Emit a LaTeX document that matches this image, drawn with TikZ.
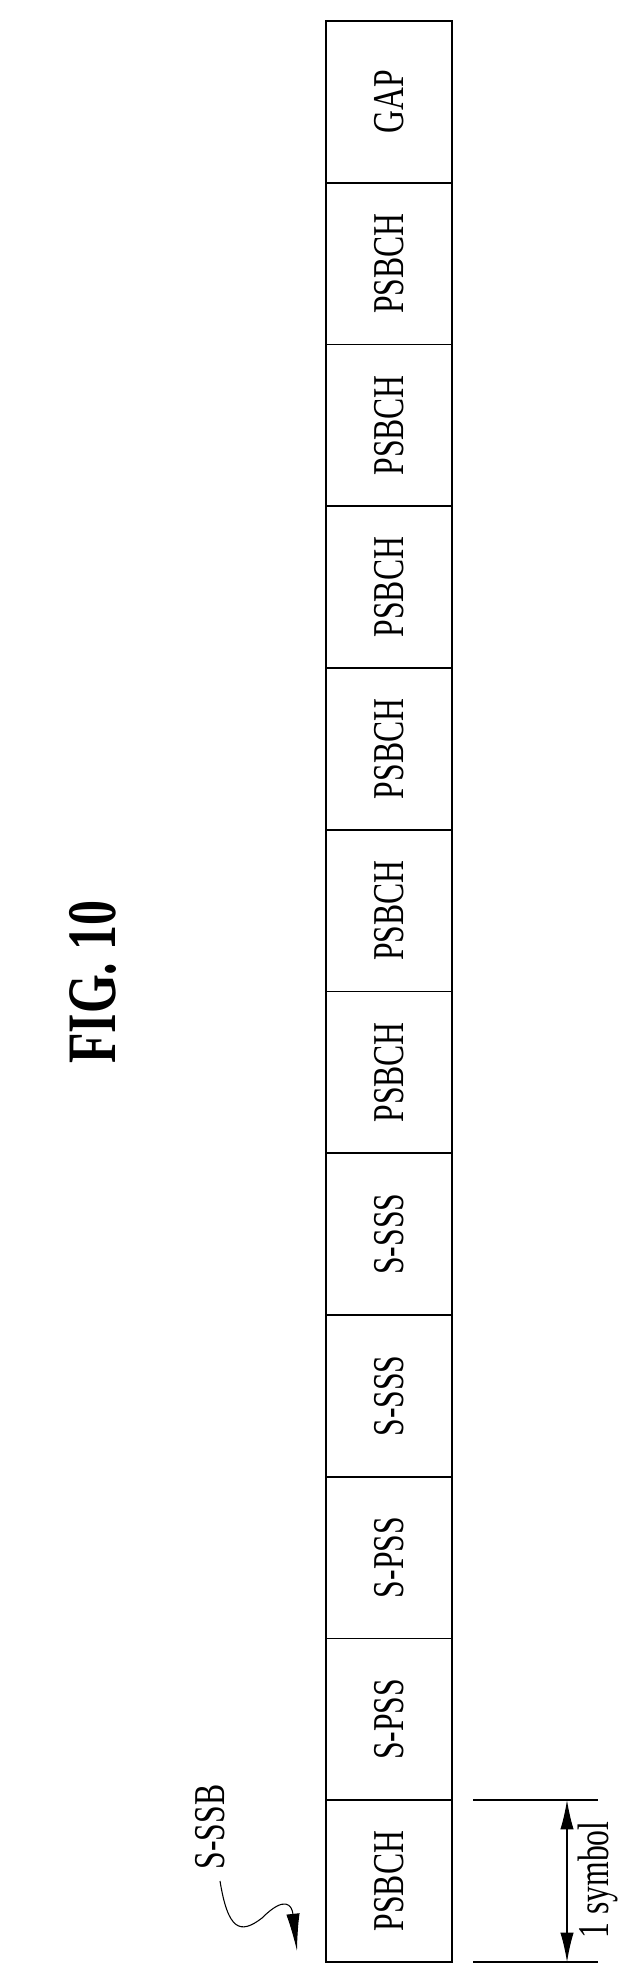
\documentclass[tikz,border=0pt]{standalone}
\usepackage{fontspec}
\setmainfont{Liberation Serif}
\usetikzlibrary{arrows.meta}
\tikzset{
  slot/.style={draw, line width=1.2pt, minimum width=126*0.75pt, minimum height=161.75*0.75pt, inner sep=0pt},
  vlabel/.style={rotate=90, font=\fontsize{33}{36}\selectfont},
}
\newcommand{\narrow}[1]{\scalebox{0.72}[1]{#1}}
\begin{document}
\begin{tikzpicture}[x=0.75pt, y=-0.75pt]
\useasboundingbox (0,0) rectangle (642,1983);
\node[vlabel, font=\fontsize{52}{56}\bfseries\selectfont] (title) at (93,982) {\narrow{FIG. 10}};

\foreach \lab [count=\i from 0] in {PSBCH,S-PSS,S-PSS,S-SSS,S-SSS,PSBCH,PSBCH,PSBCH,PSBCH,PSBCH,PSBCH,GAP}
  \node[slot] (s\i) at (389,{1962-161.75*(\i+0.5)}) {\rotatebox{90}{\fontsize{33}{36}\selectfont\narrow{\lab}}};

% one symbol dimension
\coordinate (d1) at (473,1800);
\coordinate (d2) at (473,1962);
\draw[line width=1.2pt] (d1) -- ++(125,0);
\draw[line width=0.8pt] (d2) -- ++(125,0);
\coordinate (a1) at (567,1800);
\coordinate (a2) at (567,1962);
\draw[line width=0.8pt, {Latex[length=22,width=10]}-{Latex[length=22,width=10]}] (a1) -- (a2);
\node[vlabel] (sym) at (598,1880) {\narrow{1 symbol}};

% S-SSB pointer
\node[vlabel] (ssb) at (210,1827) {\narrow{S-SSB}};
\coordinate (tip) at (297,1951);
\draw[line width=0.8pt, -{Latex[length=28,width=10]}] (220,1881) .. controls (228,1930) and (240,1935) .. (262,1918)
  .. controls (285,1895) and (292,1905) .. (tip);
\end{tikzpicture}
\end{document}
